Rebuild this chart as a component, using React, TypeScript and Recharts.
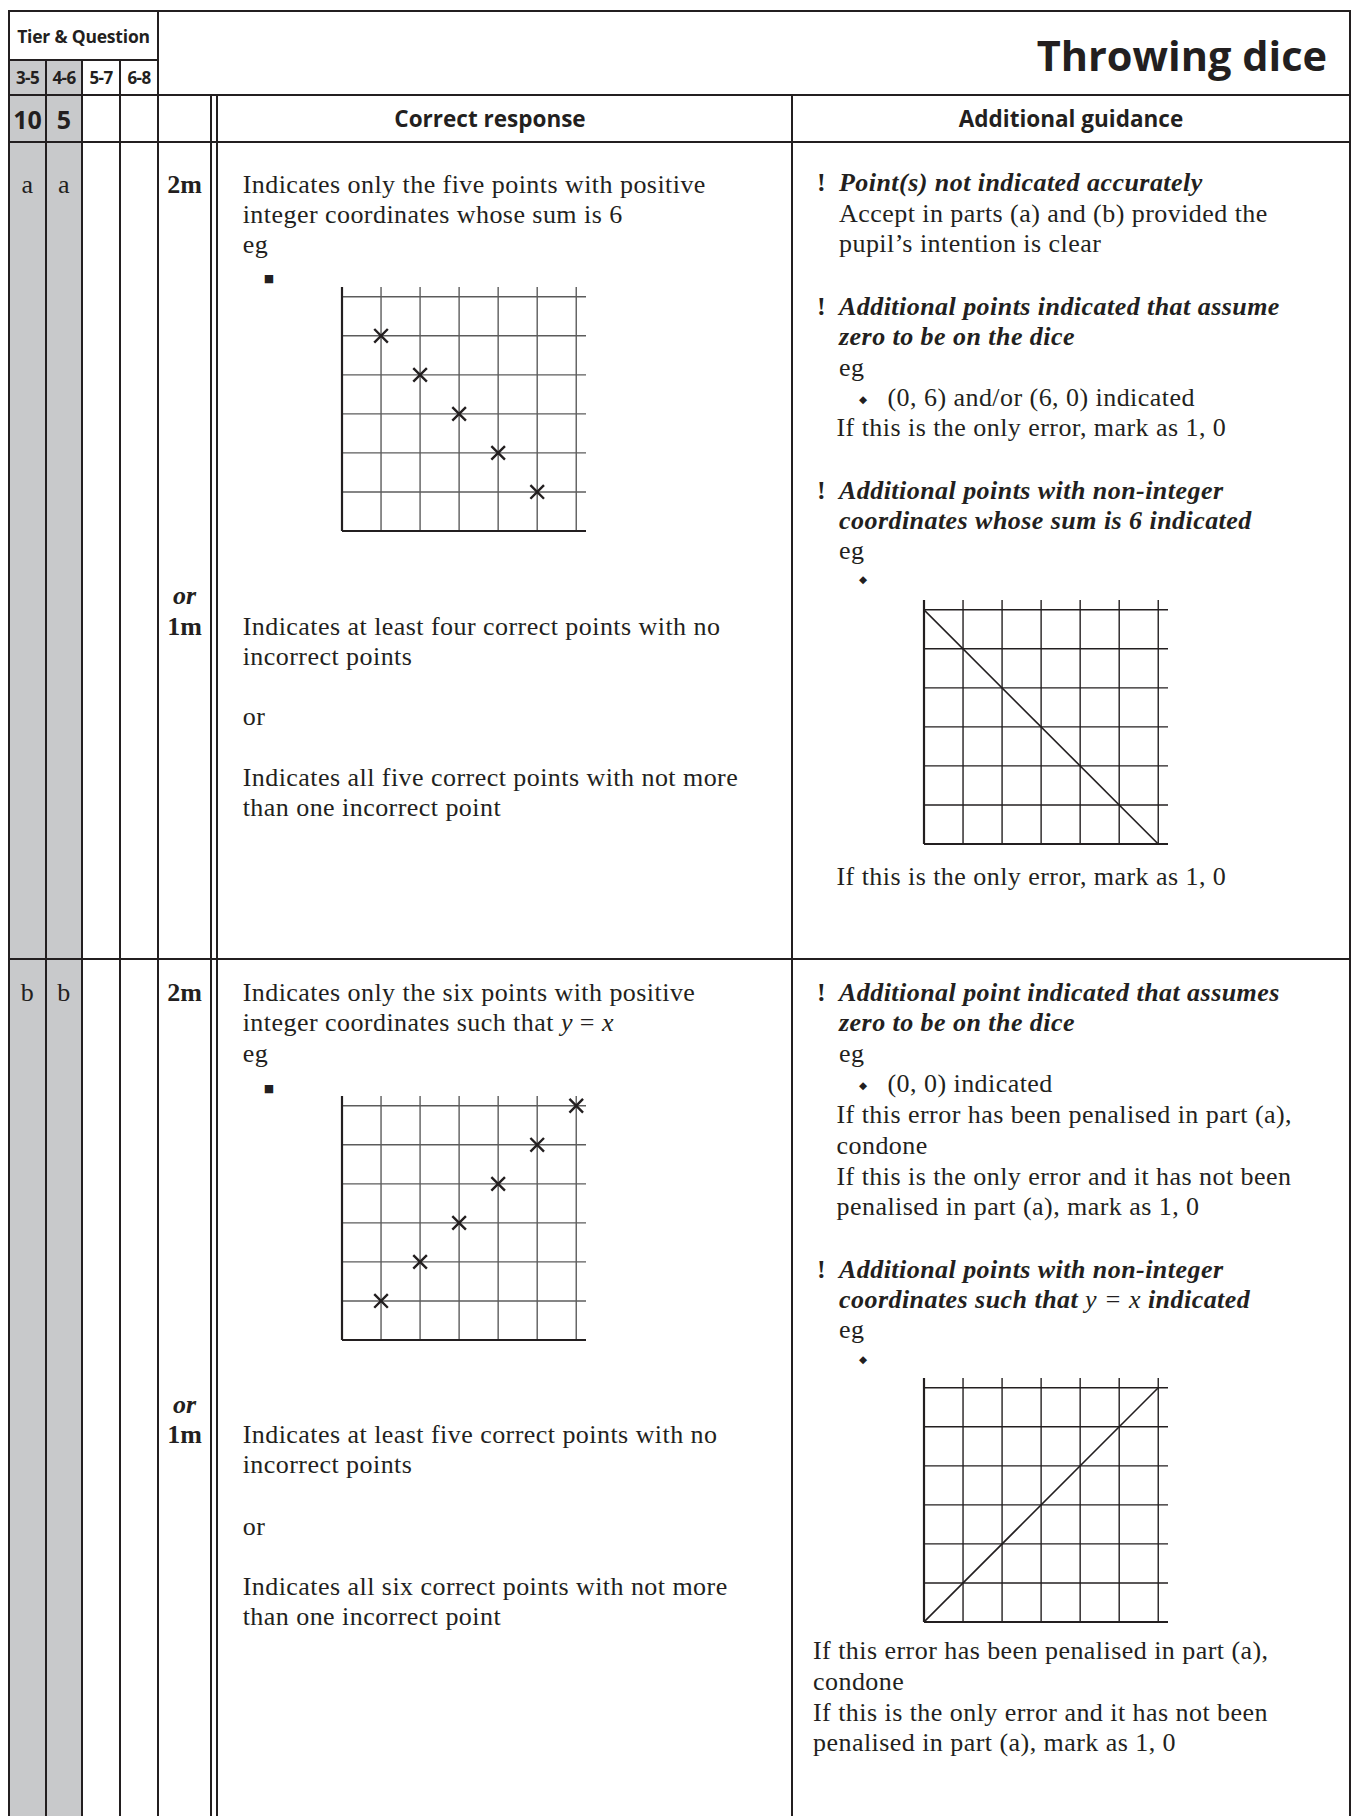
import React from "react";
import { ScatterChart, Scatter, XAxis, YAxis, ReferenceLine } from "recharts";

// grid: 6 x 6 unit squares, axis stops a quarter unit past the last line
const gridTicks = [0, 1, 2, 3, 4, 5, 6];
const gridLines = [1, 2, 3, 4, 5, 6];
const gridMax = 6.25;

// part (a): sum is 6
const sumSixX = [1, 2, 3, 4, 5];
const sumSixY = [5, 4, 3, 2, 1];
const sumLineX = [0, 6];
const sumLineY = [6, 0];

// part (b): y = x
const equalX = [1, 2, 3, 4, 5, 6];
const equalY = [1, 2, 3, 4, 5, 6];
const equalLineX = [0, 6];
const equalLineY = [0, 6];

const INK = "#231f20";
const GREY = "#c8c9cb";
const SERIF = "'Liberation Serif', 'Times New Roman', serif";
const SANS = "'Open Sans', 'Noto Sans', sans-serif";
const PLOT = 244;
const PAD = 4;

type Pt = { x: number; y: number };

function toPoints(xs: number[], ys: number[]): Pt[] {
  return xs.map((x, i) => ({ x, y: ys[i] }));
}

function Cross(props: any) {
  const { cx, cy } = props;
  if (cx == null || cy == null) return null;
  const r = 6.8;
  return (
    <path
      d={`M${cx - r},${cy - r}L${cx + r},${cy + r}M${cx + r},${cy - r}L${cx - r},${cy + r}`}
      stroke={INK}
      strokeWidth={2.4}
      fill="none"
    />
  );
}

function NoDot() {
  return <g />;
}

interface DiceGridProps {
  left: number;
  top: number;
  crosses?: Pt[];
  line?: Pt[];
  gridColor: string;
}

function DiceGrid({ left, top, crosses, line, gridColor }: DiceGridProps) {
  const axisLine = { stroke: INK, strokeWidth: 2.2 };
  return (
    <div style={{ position: "absolute", left: left - PAD, top: top - PAD }}>
      <ScatterChart
        width={PLOT + 2 * PAD}
        height={PLOT + 2 * PAD}
        margin={{ top: PAD, right: PAD, bottom: PAD - 1, left: PAD - 1 }}
      >
        <XAxis
          type="number"
          dataKey="x"
          domain={[0, gridMax]}
          ticks={gridTicks}
          tick={false}
          tickLine={false}
          axisLine={axisLine}
          height={1}
          allowDataOverflow
        />
        <YAxis
          type="number"
          dataKey="y"
          domain={[0, gridMax]}
          ticks={gridTicks}
          tick={false}
          tickLine={false}
          axisLine={axisLine}
          width={1}
          allowDataOverflow
        />
        {gridLines.map((v) => (
          <ReferenceLine key={`v${v}`} x={v} stroke={gridColor} strokeWidth={1.4} />
        ))}
        {gridLines.map((v) => (
          <ReferenceLine key={`h${v}`} y={v} stroke={gridColor} strokeWidth={1.4} />
        ))}
        {line && (
          <Scatter
            data={line}
            line={{ stroke: INK, strokeWidth: 1.6 }}
            shape={NoDot}
            isAnimationActive={false}
          />
        )}
        {crosses && <Scatter data={crosses} shape={Cross} isAnimationActive={false} />}
      </ScatterChart>
    </div>
  );
}

// serif text line positioned by its baseline
function T({ x, b, children, style }: { x: number; b: number; children?: React.ReactNode; style?: React.CSSProperties }) {
  return (
    <div
      style={{
        position: "absolute",
        left: x,
        top: b - 23.8,
        fontFamily: SERIF,
        fontSize: 26,
        lineHeight: "30px",
        letterSpacing: 0.45,
        whiteSpace: "nowrap",
        color: INK,
        ...style,
      }}
    >
      {children}
    </div>
  );
}

const bi: React.CSSProperties = { fontStyle: "italic", fontWeight: "bold" };
const bold: React.CSSProperties = { fontWeight: "bold" };

function Mark({ b, children, style }: { b: number; children: React.ReactNode; style?: React.CSSProperties }) {
  return (
    <T x={158} b={b} style={{ width: 53, textAlign: "center", letterSpacing: 0, ...style }}>
      {children}
    </T>
  );
}

function Cell({ x1, x2, y1, y2, size, spacing = 0, children }: { x1: number; x2: number; y1: number; y2: number; size: number; spacing?: number; children: React.ReactNode }) {
  return (
    <div
      style={{
        position: "absolute",
        left: x1,
        top: y1,
        width: x2 - x1,
        height: y2 - y1,
        display: "flex",
        alignItems: "center",
        justifyContent: "center",
        fontFamily: SANS,
        fontWeight: 700,
        fontSize: size,
        letterSpacing: spacing,
        color: INK,
        whiteSpace: "nowrap",
      }}
    >
      {children}
    </div>
  );
}

function H({ x1, x2, y, w = 1.5 }: { x1: number; x2: number; y: number; w?: number }) {
  return <div style={{ position: "absolute", left: x1, top: y - w / 2, width: x2 - x1, height: w, background: INK }} />;
}

function V({ x, y1, y2, w = 1.5 }: { x: number; y1: number; y2: number; w?: number }) {
  return <div style={{ position: "absolute", left: x - w / 2, top: y1, width: w, height: y2 - y1, background: INK }} />;
}

function Square({ cx, cy }: { cx: number; cy: number }) {
  return (
    <div
      style={{
        position: "absolute",
        left: cx - 8,
        top: cy - 9,
        width: 16,
        height: 18,
        fontFamily: "'DejaVu Sans', sans-serif",
        fontSize: 11,
        lineHeight: "18px",
        textAlign: "center",
        color: INK,
      }}
    >
      ■
    </div>
  );
}

function Diamond({ cx, cy }: { cx: number; cy: number }) {
  return (
    <div
      style={{
        position: "absolute",
        left: cx - 8,
        top: cy - 9,
        width: 16,
        height: 18,
        fontFamily: "'DejaVu Sans', sans-serif",
        fontSize: 10.5,
        lineHeight: "18px",
        textAlign: "center",
        color: INK,
      }}
    >
      ◆
    </div>
  );
}

const BOTTOM = 1816;

export default function App() {
  return (
    <div
      style={{
        position: "absolute",
        left: 0,
        top: 0,
        width: 1359,
        height: BOTTOM,
        background: "#fff",
        overflow: "hidden",
      }}
    >
      {/* shaded tier columns */}
      <div style={{ position: "absolute", left: 9, top: 60, width: 73, height: BOTTOM - 60, background: GREY }} />

      {/* table rules */}
      <H x1={8} x2={1351} y={11} w={2.5} />
      <V x={9} y1={10} y2={BOTTOM} w={2.5} />
      <V x={1350} y1={10} y2={BOTTOM} w={2.5} />
      <H x1={9} x2={158} y={60} />
      <H x1={9} x2={1350} y={95} />
      <H x1={9} x2={1350} y={142} w={2.5} />
      <H x1={9} x2={1350} y={959} w={2} />
      <V x={46} y1={60} y2={BOTTOM} />
      <V x={82} y1={60} y2={BOTTOM} />
      <V x={120} y1={60} y2={BOTTOM} />
      <V x={158} y1={11} y2={BOTTOM} w={2.5} />
      <V x={211} y1={95} y2={BOTTOM} w={1.2} />
      <V x={217} y1={95} y2={BOTTOM} w={1.2} />
      <V x={792} y1={95} y2={BOTTOM} />

      {/* header */}
      <Cell x1={9} x2={158} y1={11} y2={60} size={17.5} spacing={-0.2}>
        Tier &amp; Question
      </Cell>
      <Cell x1={9} x2={46} y1={60} y2={95} size={17} spacing={-0.6}>3-5</Cell>
      <Cell x1={46} x2={82} y1={60} y2={95} size={17} spacing={-0.6}>4-6</Cell>
      <Cell x1={82} x2={120} y1={60} y2={95} size={17} spacing={-0.6}>5-7</Cell>
      <Cell x1={120} x2={158} y1={60} y2={95} size={17} spacing={-0.6}>6-8</Cell>
      <Cell x1={9} x2={46} y1={95} y2={142} size={25}>10</Cell>
      <Cell x1={46} x2={82} y1={95} y2={142} size={25}>5</Cell>
      <div
        style={{
          position: "absolute",
          right: 32,
          top: 34.5,
          fontFamily: SANS,
          fontWeight: 700,
          fontSize: 41.5,
          lineHeight: "40px",
          color: INK,
          whiteSpace: "nowrap",
        }}
      >
        Throwing dice
      </div>
      <Cell x1={370} x2={610} y1={95} y2={142} size={22.5}>Correct response</Cell>
      <Cell x1={792} x2={1350} y1={95} y2={142} size={22.5}>Additional guidance</Cell>

      {/* part (a) */}
      <T x={9} b={193.9} style={{ width: 37, textAlign: "center" }}>a</T>
      <T x={46} b={193.9} style={{ width: 36, textAlign: "center" }}>a</T>
      <Mark b={193.9} style={bold}>2m</Mark>
      <T x={242.7} b={193.9}>Indicates only the five points with positive</T>
      <T x={242.7} b={224}>integer coordinates whose sum is 6</T>
      <T x={242.7} b={254.1}>eg</T>
      <Square cx={269} cy={279} />
      <DiceGrid left={342} top={287} crosses={toPoints(sumSixX, sumSixY)} gridColor="#5c5c5c" />

      <Mark b={605.2} style={bi}>or</Mark>
      <Mark b={635.3} style={bold}>1m</Mark>
      <T x={242.7} b={635.3}>Indicates at least four correct points with no</T>
      <T x={242.7} b={665.4}>incorrect points</T>
      <T x={242.7} b={725.7}>or</T>
      <T x={242.7} b={787.1}>Indicates all five correct points with not more</T>
      <T x={242.7} b={817.2}>than one incorrect point</T>

      <T x={817} b={191.6} style={bold}>!</T>
      <T x={839} b={191.6} style={bi}>Point(s) not indicated accurately</T>
      <T x={839} b={222.8}>Accept in parts (a) and (b) provided the</T>
      <T x={839} b={253}>pupil’s intention is clear</T>
      <T x={817} b={315.5} style={bold}>!</T>
      <T x={839} b={315.5} style={bi}>Additional points indicated that assume</T>
      <T x={839} b={345.6} style={bi}>zero to be on the dice</T>
      <T x={839} b={376.9}>eg</T>
      <Diamond cx={863} cy={399} />
      <T x={887.5} b={407.1}>(0, 6) and/or (6, 0) indicated</T>
      <T x={836.5} b={437.2}>If this is the only error, mark as 1, 0</T>
      <T x={817} b={499.7} style={bold}>!</T>
      <T x={839} b={499.7} style={bi}>Additional points with non-integer</T>
      <T x={839} b={529.9} style={bi}>coordinates whose sum is 6 indicated</T>
      <T x={839} b={560}>eg</T>
      <Diamond cx={863} cy={579} />
      <DiceGrid left={924} top={600} line={toPoints(sumLineX, sumLineY)} gridColor={INK} />
      <T x={836.5} b={885.5}>If this is the only error, mark as 1, 0</T>

      {/* part (b) */}
      <T x={9} b={1001.4} style={{ width: 37, textAlign: "center" }}>b</T>
      <T x={46} b={1001.4} style={{ width: 36, textAlign: "center" }}>b</T>
      <Mark b={1001.4} style={bold}>2m</Mark>
      <T x={242.7} b={1001.4}>Indicates only the six points with positive</T>
      <T x={242.7} b={1031.5}>
        integer coordinates such that <i>y</i> = <i>x</i>
      </T>
      <T x={242.7} b={1062.8}>eg</T>
      <Square cx={269} cy={1089} />
      <DiceGrid left={342} top={1096} crosses={toPoints(equalX, equalY)} gridColor="#5c5c5c" />

      <Mark b={1413.9} style={bi}>or</Mark>
      <Mark b={1444} style={bold}>1m</Mark>
      <T x={242.7} b={1444}>Indicates at least five correct points with no</T>
      <T x={242.7} b={1474.1}>incorrect points</T>
      <T x={242.7} b={1535.5}>or</T>
      <T x={242.7} b={1595.8}>Indicates all six correct points with not more</T>
      <T x={242.7} b={1625.9}>than one incorrect point</T>

      <T x={817} b={1001.4} style={bold}>!</T>
      <T x={839} b={1001.4} style={bi}>Additional point indicated that assumes</T>
      <T x={839} b={1031.5} style={bi}>zero to be on the dice</T>
      <T x={839} b={1062.8}>eg</T>
      <Diamond cx={863} cy={1085} />
      <T x={887.5} b={1092.9}>(0, 0) indicated</T>
      <T x={836.5} b={1124.2}>If this error has been penalised in part (a),</T>
      <T x={836.5} b={1154.4}>condone</T>
      <T x={836.5} b={1185.6}>If this is the only error and it has not been</T>
      <T x={836.5} b={1215.8}>penalised in part (a), mark as 1, 0</T>
      <T x={817} b={1278.3} style={bold}>!</T>
      <T x={839} b={1278.3} style={bi}>Additional points with non-integer</T>
      <T x={839} b={1308.4} style={bi}>
        coordinates such that <span style={{ fontWeight: "normal" }}>y = x</span> indicated
      </T>
      <T x={839} b={1338.6}>eg</T>
      <Diamond cx={863} cy={1359} />
      <DiceGrid left={924} top={1378} line={toPoints(equalLineX, equalLineY)} gridColor={INK} />
      <T x={813} b={1659.5}>If this error has been penalised in part (a),</T>
      <T x={813} b={1690.7}>condone</T>
      <T x={813} b={1722.1}>If this is the only error and it has not been</T>
      <T x={813} b={1752.2}>penalised in part (a), mark as 1, 0</T>
    </div>
  );
}
